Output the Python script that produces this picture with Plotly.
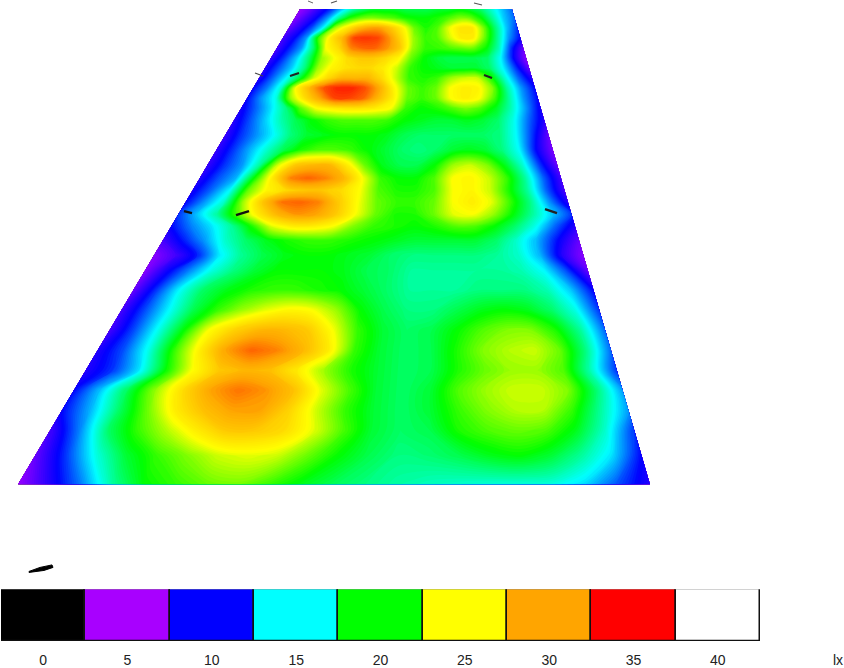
import plotly.graph_objects as go

# Illuminance samples (lx): one row per image row of the floor, one column per fraction of floor width
ROW_Y = [9,18,28,38,48,58,68,78,88,98,108,120,135,150,165,178,190,202,214,226,240,255,270,290,310,330,350,370,390,410,430,455,484]
COL_U = [0,.05,.1,.15,.2,.25,.3,.35,.4,.45,.5,.55,.6,.65,.7,.75,.8,.85,.9,.95,1]
LUX = [
[5.5,7,9,11,14,16.5,18,19,19,19,18.5,18.5,18.5,19,19,19.5,19,18,16,14,12],
[6,8,10,13,17,20.5,22,22.5,22,21.5,20.5,20,20,20.5,21.5,22.5,22,20,17,14,12],
[7,9,11.5,15,23,26,28.5,30,30,28,25.5,22,20.5,21.5,24.5,26.5,26.5,22.5,18,14,11],
[8,10,13,21,26,29,33,33.5,33,30.5,27,23,21,21.5,24,26,26,22,17.5,13,10],
[8,10.5,13,18,25,27,31,32,32,30.5,28,23,21,21,21.5,22,22,20,16.5,11,7],
[8.5,11,14,18,23,25,27,28,28,27,25.5,22,20,19,18.5,18.5,18.5,18,15,10,6],
[9,11.5,14,17.5,23,25.5,26.5,27,27,26,24,21,20,19.5,19,19,19,18,15,11,7],
[9,12,15,19,24,27,29,29,29,27,24,21,20.5,21,23,24,24,20.5,16,12,9],
[10,12.5,16,25,29,32.5,34,34,32.5,29.5,25.5,22,21,22,25,26,25.5,22.5,17,13,10],
[10,13,15.5,23,27,30,33,33,32,29,26,22,21,22,25,26,25,21.5,17,13,10],
[9.5,12,14.5,17.5,22,25,26,26.5,26.5,26,25,21,20,20.5,21.5,22.5,21.5,19.5,16.5,13,9.5],
[9,11.5,14,16.5,18.5,20,21,21.5,21.5,21.5,21,20,19.5,19,19,19.5,19,18,15.5,12,9],
[8.5,11,13,15,17.5,19,19.5,20,20,20,19.5,18.5,18,18,18,18,18,17.5,15,11,7],
[8.5,11,13.5,16,18.5,20.5,21.5,21.5,21,20,19,18,17.5,18,19,19.5,19,17.5,15,10,6.5],
[8.5,11,13,17,24,28,29,29,26,22,19.5,18.5,18.5,20,23,24,22.5,19.5,16,11,7],
[9,11.5,13.5,20,26,31,32,31,29,25,21,20,20,21.5,25,25.5,24,21,17,12,8],
[9.5,12,15,22,25.5,27,28,28,27,25,21.5,20.5,20.5,21.5,25,25.5,24,20.5,17,12,8],
[10,13,16,23,28,31.5,32,31,28,25,22,21,21,22,25,26,24.5,21,17.5,13,9],
[11,14,17,21.5,26,29,30.5,30,28,25,22,20.5,20.5,22,24.5,25,23,20,17,14,11],
[10,12.5,14.5,17,20.5,24.5,26,26,25,22.5,21,20.5,20,20.5,21.5,21.5,20,18,15.5,12,9],
[8,10.5,13,16,18,19.5,20.5,21,21,20.5,20,19.5,19,19,19,19,18,16,13.5,10,7],
[6,8,10.5,14.5,17,18.5,19.5,20,20,19.5,19,18,17.5,17.5,17.5,17.5,17,16,13.5,9,6],
[6,9.5,12.5,15.5,17.5,19,20,20,20,19.5,18.5,18,17,17,17,17,17,16.5,15,11.5,7],
[7,11,15,18,19.5,20.5,21,21,20.5,20,19,18,17,17,17,17.5,17.5,17.5,16.5,14,10],
[8,11.5,15,18.5,21,23,24.5,25.5,25,23,20,18.5,17.5,17.5,18.5,19.5,20,19.5,18,15.5,11],
[8,11.5,15.5,20,25,27.5,29,29,28,25,21,19,18,18.5,20,21.5,22.5,22.5,20.5,17,12],
[9,11.5,15.5,21,26,30,32,31,29,26,21,19,18,18.5,20.5,22.5,23.5,24,22,17.5,12],
[9,11,14.5,20,25,28,29,28.5,26,23,20.5,19,18,18.5,20.5,22,23,23,21.5,16.5,11],
[10,14,18.5,23,27,30,31.5,30.5,28.5,24.5,21.5,19,18,19,21.5,23,24,24,22.5,18,13],
[10,13.5,18,22,26,28.5,30,30,27.5,24,21,19,18,19,21,22.5,23.5,23.5,21,17,13],
[8,12.5,18,21,23.5,26,28,28,27,24.5,21.5,19,18,18.5,20.5,21.5,22,21.5,19.5,16,11],
[7,11,15.5,19,21,22.5,24,24.5,24,22,20,18.5,17.5,17.8,18.5,19.5,20,19,17,14.5,10],
[5.5,9,12.5,17,20,21,22,22.3,21,19.5,18.3,17.5,16.8,16.3,16,15.8,15.7,15.5,14.2,11.5,9],
]
# Floor outline in the picture
FLOOR_TOP = (300, 512)
FLOOR_BOTTOM = (18, 650)
FLOOR_Y = (9, 484)

# Legend
LEGEND_LABELS = ["0","5","10","15","20","25","30","35","40"]
LEGEND_VALUES = [0,5,10,15,20,25,30,35,40]
LEGEND_COLORS = ["#000000","#A800FF","#0000FF","#00FFFF","#00FF00","#FFFF00","#FFA500","#FF0000","#FFFFFF"]

# Luminaire ticks: (x0,y0,x1,y1,width,colour)
MARKS = [
 (184,211,192,213,2.5,"#111"),(236,215,249,211,2.5,"#111"),(545,209,557,213,2.5,"#222"),
 (255,73,263,76,1.2,"#444"),(290,76,299,73,2,"#222"),(484,75,492,78,2,"#222"),
 (308,1,313,3,1,"#666"),(331,3,337,1,1.2,"#555"),(474,3,482,5,1.2,"#555"),
]
NORTH_X = [29,40,52,53,44,29,29]
NORTH_Y = [571,567,564.5,567,570,572,571]

def lerp(a,b,t): return a+(b-a)*t
colorscale = [[v/40,c] for v,c in zip(LEGEND_VALUES,LEGEND_COLORS)]
grid_x=[]; grid_y=[]
for y in ROW_Y:
    t=(y-FLOOR_Y[0])/(FLOOR_Y[1]-FLOOR_Y[0])
    l=lerp(FLOOR_TOP[0],FLOOR_BOTTOM[0],t); r=lerp(FLOOR_TOP[1],FLOOR_BOTTOM[1],t)
    grid_x.append([lerp(l,r,u) for u in COL_U]); grid_y.append([y]*len(COL_U))
rows=list(range(len(ROW_Y)))

fig=go.Figure()
hidden=dict(showgrid=False,showticklabels="none",startline=False,endline=False,
            minorgridcount=0,smoothing=0,showline=False,linewidth=0,gridwidth=0)
fig.add_trace(go.Carpet(carpet="floor",a=COL_U,b=rows,x=grid_x,y=grid_y,aaxis=hidden,baxis=hidden,xaxis="x",yaxis="y"))
fig.add_trace(go.Contourcarpet(carpet="floor",a=COL_U,b=rows,z=LUX,colorscale=colorscale,zmin=0,zmax=40,showscale=False,
    autocontour=False,contours=dict(start=0,end=40,size=0.25,coloring="fill",showlines=False),line=dict(width=0),xaxis="x",yaxis="y"))
for x0,y0,x1,y1,w,c in MARKS:
    fig.add_trace(go.Scatter(x=[x0,x1],y=[y0,y1],mode="lines",line=dict(color=c,width=w),showlegend=False,xaxis="x",yaxis="y"))
fig.add_trace(go.Scatter(x=NORTH_X,y=NORTH_Y,mode="lines",fill="toself",fillcolor="#000",line=dict(color="#000",width=1),showlegend=False,xaxis="x",yaxis="y"))
fig.add_trace(go.Bar(x=LEGEND_LABELS,y=[1]*9,width=1,marker=dict(color=LEGEND_COLORS,line=dict(color="#111",width=1.5)),showlegend=False,xaxis="x2",yaxis="y2"))
fig.update_layout(width=844,height=668,margin=dict(l=0,r=0,t=0,b=0),paper_bgcolor="white",plot_bgcolor="white",showlegend=False,
    xaxis=dict(range=[0,844],domain=[0,1],visible=False),
    yaxis=dict(range=[665.5,0],domain=[0,1],visible=False),
    xaxis2=dict(domain=[1/844,760/844],anchor="y2",type="category",range=[-.5,8.5],showgrid=False,showline=False,zeroline=False,ticks="",
                ticklabelstandoff=9,tickfont=dict(family="Liberation Sans",size=14,color="#222")),
    yaxis2=dict(domain=[25/668,77/668],anchor="x2",range=[0,1],visible=False),
    bargap=0,
    annotations=[dict(text="lx",xref="paper",yref="paper",x=838/844,y=6/668,xanchor="center",yanchor="middle",showarrow=False,
                      font=dict(family="Liberation Sans",size=14,color="#222"))])
fig.write_html("out.html",config=dict(displayModeBar=False),post_script="document.body.style.margin='0';document.documentElement.style.overflow='hidden';")
